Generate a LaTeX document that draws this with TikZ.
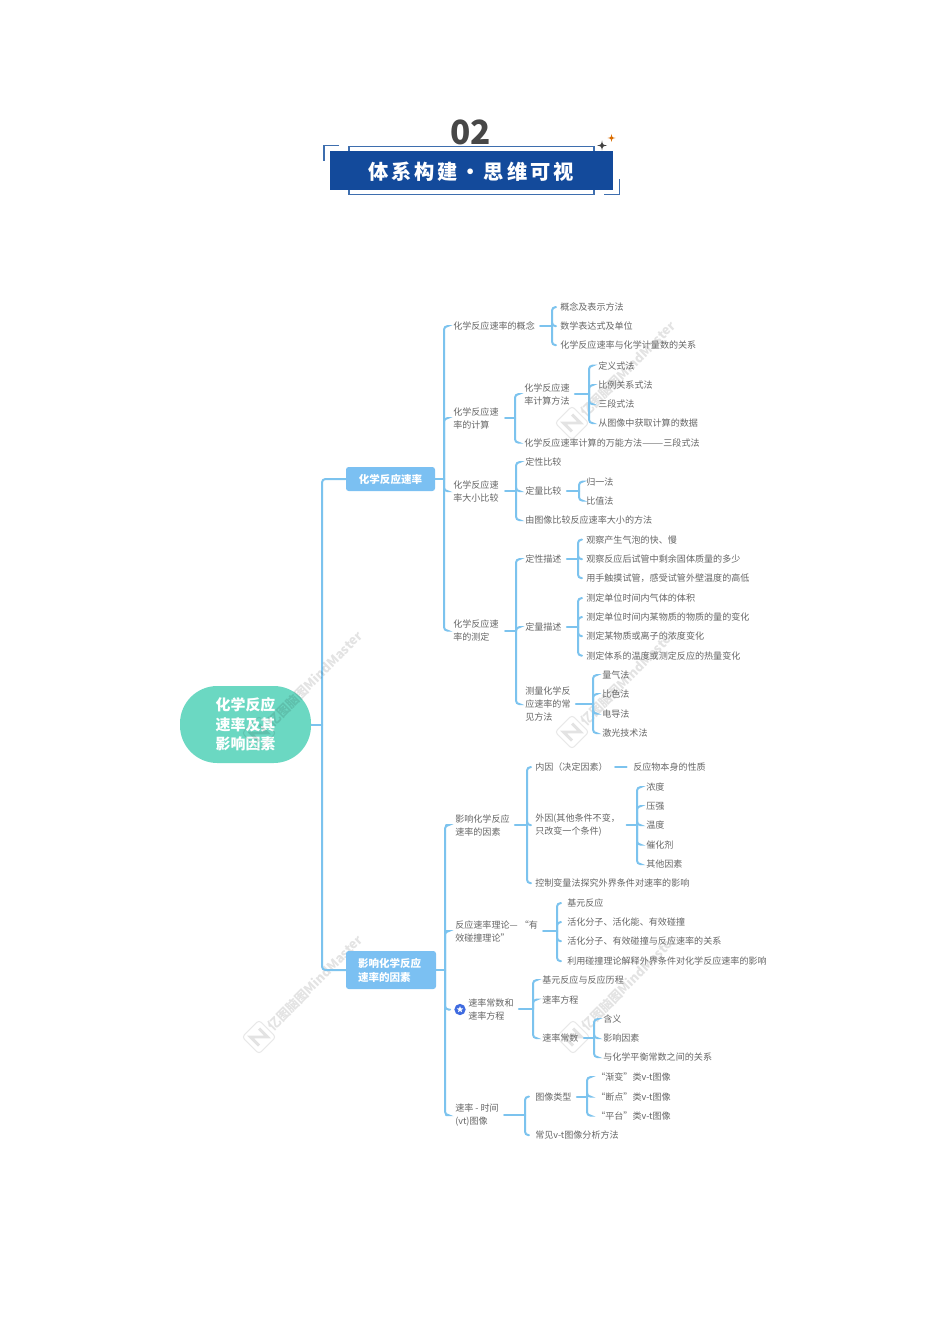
\documentclass[tikz,border=0pt]{standalone}
\usepackage{fontspec}
\usepackage{graphicx}
\setmainfont{Noto Sans CJK SC}
\newfontfamily\spaced[LetterSpace=14]{Noto Sans CJK SC}
\usetikzlibrary{shapes.geometric}
\definecolor{conncol}{HTML}{7CC3EE}
\definecolor{topiccol}{HTML}{7BC0F2}
\definecolor{rootcol}{HTML}{6BD8C2}
\definecolor{titlecol}{HTML}{134A9B}
\definecolor{framecol}{HTML}{3E6EAE}
\definecolor{textcol}{HTML}{666666}
\definecolor{iconcol}{HTML}{3F6BE0}
\tikzset{
  x=0.75pt,y=-0.75pt,
  conn/.style={draw=conncol,line width=1.5pt,line cap=round},
  connr/.style={conn,rounded corners=2.6pt,shorten >=0.8pt},
  txt/.style={anchor=west,xshift=-3.75pt,yshift=-0.1pt,inner xsep=3.75pt,inner ysep=0pt,align=left,text=textcol,font=\fontsize{6.8pt}{9.6pt}\selectfont},
  topic/.style={fill=topiccol,rounded corners=2pt,text=white,align=left,inner sep=0pt,font=\fontsize{7.9pt}{10.4pt}\selectfont\bfseries},
  rootbox/.style={fill=rootcol,text=white,align=center,inner sep=0pt,rounded corners=28pt,font=\fontsize{11.2pt}{14.6pt}\selectfont\bfseries},
  wmtext/.style={rotate=45,text=black,text opacity=.11,inner sep=0pt,font=\fontsize{9.6pt}{11pt}\selectfont\bfseries},
  frameline/.style={draw=framecol,line width=0.9pt},
}
% #1 extra gap at the start of the stub, #2 parent, #3 trunk x, #4 children
\newcommand\brk[4][0pt]{%
  \draw[conn,shorten <=#1] (#2.east) -- (#2.east -| #3,0);
  \foreach \cc in {#4}{\draw[connr] (#2.east -| #3,0) |- (\cc.west);}
}
\newcommand\wmark[2]{%
  \node[wmtext] (wm#1#2) at (#1+56,#2-54) {亿图脑图MindMaster};
  \begin{scope}[shift={(#1,#2)},rotate=45]
    \draw[black,draw opacity=.09,line width=0.8pt,rounded corners=2.5pt] (-12,-12) rectangle (12,12);
    \draw[black,draw opacity=.11,line width=2.2pt] (-6,6) -- (-6,-6) -- (6,6) -- (6,-6);
  \end{scope}
}
\newcommand\fourstar[4]{%
  \fill[#4] (#1,#2-#3) .. controls (#1+.15*#3,#2-.15*#3) .. (#1+#3,#2)
     .. controls (#1+.15*#3,#2+.15*#3) .. (#1,#2+#3)
     .. controls (#1-.15*#3,#2+.15*#3) .. (#1-#3,#2)
     .. controls (#1-.15*#3,#2-.15*#3) .. (#1,#2-#3) -- cycle;
}
\begin{document}
\begin{tikzpicture}
\useasboundingbox (0,0) rectangle (950,1344);
\fill[white] (0,0) rectangle (950,1344);

% --- watermarks, under the texts ---
\wmark{259}{1037}
\wmark{572}{423}
\wmark{572}{732}
\wmark{573}{1037}

% --- header ---
\draw[frameline] (349,151) -- (349,146.7) -- (594,146.7) -- (594,151);
\draw[frameline] (349,190) -- (349,194.7) -- (594,194.7) -- (594,190);
\draw[frameline] (339,145.7) -- (324,145.7) -- (324,161);
\draw[frameline] (604,194.7) -- (619.5,194.7) -- (619.5,179);
\node[fill=titlecol,minimum width=212.25pt,minimum height=29.25pt,inner sep=0pt] (title) at (471.5,170.5) {};
\node[inner sep=0pt,text=white,font=\fontsize{15.2pt}{18pt}\selectfont\spaced\bfseries] (titletext) at (471,171.5) {体系构建・思维可视};
\node[inner sep=0pt,text=black!72,font=\fontsize{25pt}{28pt}\selectfont\bfseries] (num) at (470.5,132.5) {02};
\fourstar{602}{145.5}{5}{black!75}
\fourstar{611.5}{138}{4}{orange!85!black}

% --- root and topics ---
\node[rootbox,minimum width=98.25pt,minimum height=57.75pt] (root) at (245.5,724.5) {化学反应\\速率及其\\影响因素};
\node[topic,minimum width=66.75pt,minimum height=18pt,align=center] (t1) at (390.5,479) {化学反应速率};
\node[topic,minimum width=67.5pt,minimum height=28.5pt,text width=49.5pt] (t2) at (391,970) {影响化学反应\\速率的因素};

% --- branch 1 ---
\node[txt] (a1) at (453,326) {化学反应速率的概念};
\node[txt] (a1x) at (560,307) {概念及表示方法};
\node[txt] (a1y) at (560,326) {数学表达式及单位};
\node[txt] (a1z) at (560,345) {化学反应速率与化学计量数的关系};
\node[txt] (a2) at (453,418) {化学反应速\\率的计算};
\node[txt] (b1) at (524,394) {化学反应速\\率计算方法};
\node[txt] (b1p) at (598,365.5) {定义式法};
\node[txt] (b1q) at (598,385) {比例关系式法};
\node[txt] (b1r) at (598,404) {三段式法};
\node[txt] (b1s) at (598,423) {从图像中获取计算的数据};
\node[txt] (b2) at (524,442.5) {化学反应速率计算的万能方法\scalebox{1.4}[1]{——}三段式法};
\node[txt] (a3) at (453,491) {化学反应速\\率大小比较};
\node[txt] (a3x) at (525,462) {定性比较};
\node[txt] (a3y) at (525,491) {定量比较};
\node[txt] (a3z) at (525,520) {由图像比较反应速率大小的方法};
\node[txt] (a3u) at (586,481.5) {归一法};
\node[txt] (a3v) at (586,500.5) {比值法};
\node[txt] (a4) at (453,630.5) {化学反应速\\率的测定};
\node[txt] (a4x) at (525,559) {定性描述};
\node[txt] (a4y) at (525,627) {定量描述};
\node[txt] (a4z) at (525,704) {测量化学反\\应速率的常\\见方法};
\node[txt] (x1) at (586,539.5) {观察产生气泡的快、慢};
\node[txt] (x2) at (586,559) {观察反应后试管中剩余固体质量的多少};
\node[txt] (x3) at (586,578) {用手触摸试管，感受试管外壁温度的高低};
\node[txt] (y1) at (586,598) {测定单位时间内气体的体积};
\node[txt] (y2) at (586,617) {测定单位时间内某物质的物质的量的变化};
\node[txt] (y3) at (586,636) {测定某物质或离子的浓度变化};
\node[txt] (y4) at (586,655.5) {测定体系的温度或测定反应的热量变化};
\node[txt] (z1) at (602,675) {量气法};
\node[txt] (z2) at (602,694) {比色法};
\node[txt] (z3) at (602,713.5) {电导法};
\node[txt] (z4) at (602,733) {激光技术法};

% --- branch 2 ---
\node[txt] (c1) at (455,825) {影响化学反应\\速率的因素};
\node[txt] (c1x) at (535,767) {内因（决定因素）};
\node[txt] (c1r) at (633,767) {反应物本身的性质};
\node[txt] (c1y) at (535,825) {外因(其他条件不变，\\只改变一个条件)};
\node[txt] (c1z) at (535,883) {控制变量法探究外界条件对速率的影响};
\node[txt] (f1) at (646,787) {浓度};
\node[txt] (f2) at (646,806) {压强};
\node[txt] (f3) at (646,825) {温度};
\node[txt] (f4) at (646,844.5) {催化剂};
\node[txt] (f5) at (646,864) {其他因素};
\node[txt] (c2) at (455,931) {反应速率理论— “有\\效碰撞理论”};
\node[txt] (g1) at (567,903) {基元反应};
\node[txt] (g2) at (567,922) {活化分子、活化能、有效碰撞};
\node[txt] (g3) at (567,941) {活化分子、有效碰撞与反应速率的关系};
\node[txt] (g4) at (567,961) {利用碰撞理论解释外界条件对化学反应速率的影响};
\node[circle,fill=iconcol,minimum size=8.5pt,inner sep=0pt] (icon) at (460,1009.5) {};
\node[star,star points=5,star point ratio=2.2,fill=white,minimum size=5pt,inner sep=0pt] (iconstar) at (icon) {};
\node[txt] (c3) at (468,1009) {速率常数和\\速率方程};
\node[txt] (h1) at (542,980) {基元反应与反应历程};
\node[txt] (h2) at (542,999.5) {速率方程};
\node[txt] (h3) at (542,1038) {速率常数};
\node[txt] (i1) at (603,1019) {含义};
\node[txt] (i2) at (603,1038) {影响因素};
\node[txt] (i3) at (603,1057) {与化学平衡常数之间的关系};
\node[txt] (c4) at (455,1115) {速率 - 时间\\(vt)图像};
\node[txt] (j1) at (535,1096.5) {图像类型};
\node[txt] (j2) at (535,1135) {常见v-t图像分析方法};
\node[txt] (k1) at (596,1077) {“渐变”类v-t图像};
\node[txt] (k2) at (596,1096.5) {“断点”类v-t图像};
\node[txt] (k3) at (596,1115.5) {“平台”类v-t图像};

% --- connectors ---
\draw[conn] (root.east) -- (root.east -| 322,0);
\draw[conn,rounded corners=2.6pt] (root.east -| 322,0) |- (t1.west);
\draw[conn,rounded corners=2.6pt] (root.east -| 322,0) |- (t2.west);
\brk{t1}{444}{a1,a2,a3,a4}
\draw[conn] (t2.east) -- (t2.east -| 445,0);
\foreach \cc in {c1,c2,icon,c4}{\draw[connr,shorten >=3pt] (t2.east -| 445,0) |- (\cc.west);}

\brk{a1}{552}{a1x,a1y,a1z}
\brk[1pt]{a2}{515}{b1,b2}
\brk{b1}{589}{b1p,b1q,b1r,b1s}
\brk[1pt]{a3}{516}{a3x,a3y,a3z}
\brk{a3y}{579}{a3u,a3v}
\brk[1pt]{a4}{516}{a4x,a4y,a4z}
\brk{a4x}{578}{x1,x2,x3}
\brk{a4y}{578}{y1,y2,y3,y4}
\brk{a4z}{593}{z1,z2,z3,z4}
\brk{c1}{527}{c1x,c1y,c1z}
\draw[conn,shorten <=1.5pt,shorten >=1pt] (c1x.east) -- (c1r.west);
\brk[1pt]{c1y}{637}{f1,f2,f3,f4,f5}
\brk{c2}{557}{g1,g2,g3,g4}
\brk{c3}{533}{h1,h2,h3}
\brk{h3}{594}{i1,i2,i3}
\brk{c4}{525}{j1,j2}
\brk{j1}{587}{k1,k2,k3}

% --- watermark across the root ---
\wmark{259}{733}
\end{tikzpicture}
\end{document}
